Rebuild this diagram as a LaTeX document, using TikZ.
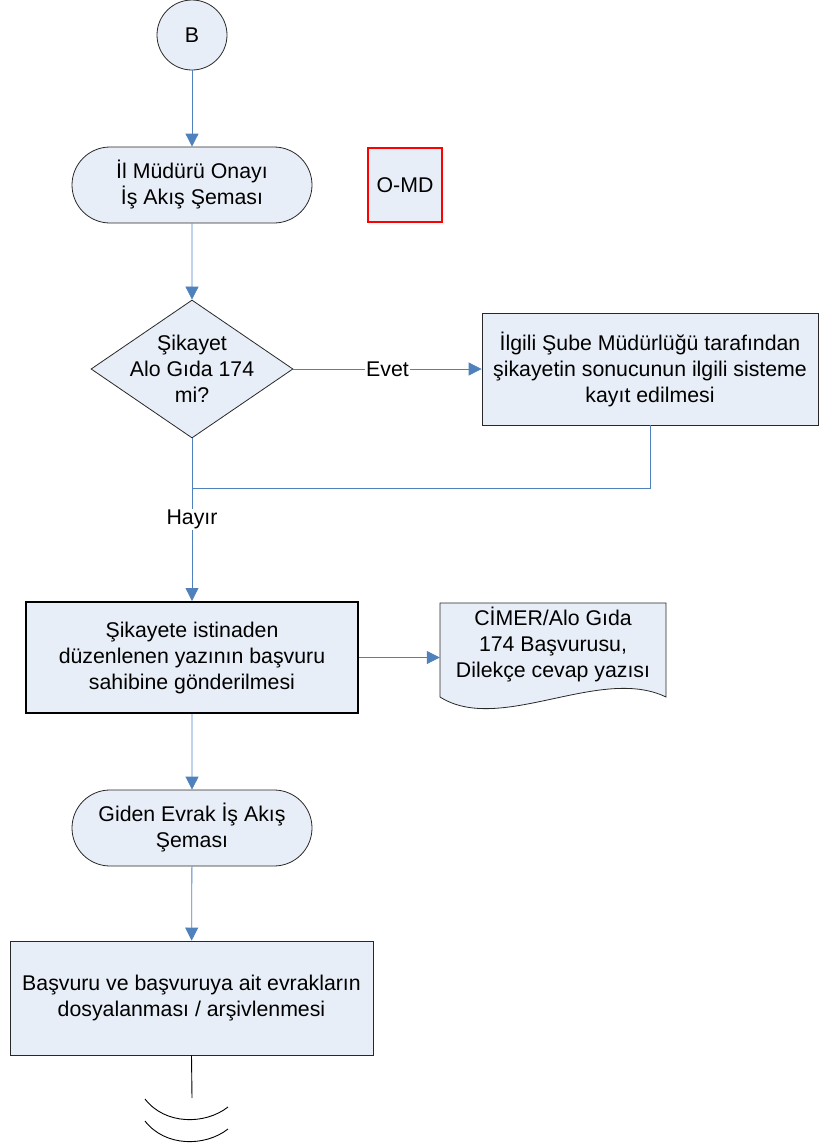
\documentclass[tikz,border=0pt]{standalone}
\usepackage{fontspec}
\setmainfont{Liberation Sans}
\usepackage{xcolor}
\usetikzlibrary{positioning}
\usetikzlibrary{arrows.meta}
\usetikzlibrary{shapes.geometric}
\usetikzlibrary{shapes.misc}
\usetikzlibrary{math}
\usetikzlibrary{calc}

\definecolor{boxfill}{RGB}{232,238,247}
\definecolor{linkblue}{RGB}{79,129,189}
\definecolor{rimgray}{RGB}{40,40,40}

\tikzset{
  every node/.style={font=\fontsize{21.3}{26}\selectfont, align=center, text=black},
  terminal/.style={rounded rectangle, draw=rimgray, fill=boxfill, line width=0.8pt,
    minimum width=240pt, minimum height=76pt, inner sep=0pt},
  process/.style={rectangle, draw=rimgray, fill=boxfill, line width=0.8pt, inner sep=0pt},
  decision/.style={diamond, draw=rimgray, fill=boxfill, line width=0.8pt, inner sep=0pt,
    minimum width=202pt, minimum height=138pt},
  link/.style={draw=linkblue, line width=0.8pt},
  flow/.style={link, -{Triangle[width=13pt,length=13pt]}, linkblue},
  answer/.style={fill=white, inner sep=1pt}
}

\begin{document}
\begin{tikzpicture}[x=1pt,y=-1pt]

  \tikzmath{
    \midx  = 192;  % axis of the main column
    \merge = 488;  % height where the side branch joins back
  }

  \useasboundingbox (0,0) rectangle (819,1146);

  % Start connector
  \node[circle, draw=rimgray, fill=boxfill, line width=0.8pt, minimum size=70pt, inner sep=0pt]
    (B) at (\midx,35) {B};

  % First sub-process and code label
  \node[terminal] (onay) at (\midx,185) {İl Müdürü Onayı\\İş Akış Şeması};
  \node[rectangle, draw=red, fill=boxfill, line width=2.5pt, minimum width=74pt,
    minimum height=74pt, inner sep=0pt] (omd) at (405,185) {O-MD};

  % Decision and the yes branch
  \node[decision, label={center:Şikayet\\Alo Gıda 174\\mi?}] (alo) at (\midx,369) {};
  \node[process, minimum width=336pt, minimum height=112pt] (kayit) at (650,369)
    {İlgili Şube Müdürlüğü tarafından\\şikayetin sonucunun ilgili sisteme\\kayıt edilmesi};
  \coordinate (join) at (\midx,\merge);

  % Reply to the applicant and its document
  \node[process, draw=black, line width=2pt, minimum width=332pt, minimum height=111pt]
    (cevap) at (\midx,657.5) {Şikayete istinaden\\düzenlenen yazının başvuru\\sahibine gönderilmesi};
  \fill[boxfill] (440,603) -- (666,603) -- (666,697)
    .. controls (600,665) and (500,735) .. (440,697) -- cycle;
  \draw[rimgray, line width=0.8pt] (440,603) -- (666,603) -- (666,697)
    .. controls (600,665) and (500,735) .. (440,697) -- cycle;
  \node[minimum width=226pt, minimum height=80pt, inner sep=0pt] (doc) at (553,645)
    {CİMER/Alo Gıda\\174 Başvurusu,\\Dilekçe cevap yazısı};

  % Outgoing mail and archiving
  \node[terminal] (giden) at (\midx,828) {Giden Evrak İş Akış\\Şeması};
  \node[process, minimum width=363pt, minimum height=114pt] (arsiv) at (191.5,998)
    {Başvuru ve başvuruya ait evrakların\\dosyalanması / arşivlenmesi};
  \coordinate (tail) at (\midx,1098);

  % Connectors
  \draw[flow] (B) -- (onay);
  \draw[flow] (onay) -- (alo);
  \draw[flow] (alo.east) -- node[answer] {Evet} (kayit.west);
  \draw[link] (kayit.south) |- (join);
  \draw[flow] (alo.south) -- node[answer] {Hayır} (cevap.north);
  \draw[flow] (cevap.east) -- (cevap.east -| doc.west);
  \draw[flow] (cevap) -- (giden);
  \draw[flow] (giden) -- (arsiv);
  \draw[line width=0.9pt] (arsiv.south) -- (tail);

  % Page break marks
  \draw[line width=0.9pt] (145,1099) .. controls (165,1125) and (205,1125) .. (228,1107);
  \draw[line width=0.9pt] (145,1121) .. controls (165,1147) and (205,1147) .. (228,1129);

\end{tikzpicture}
\end{document}
